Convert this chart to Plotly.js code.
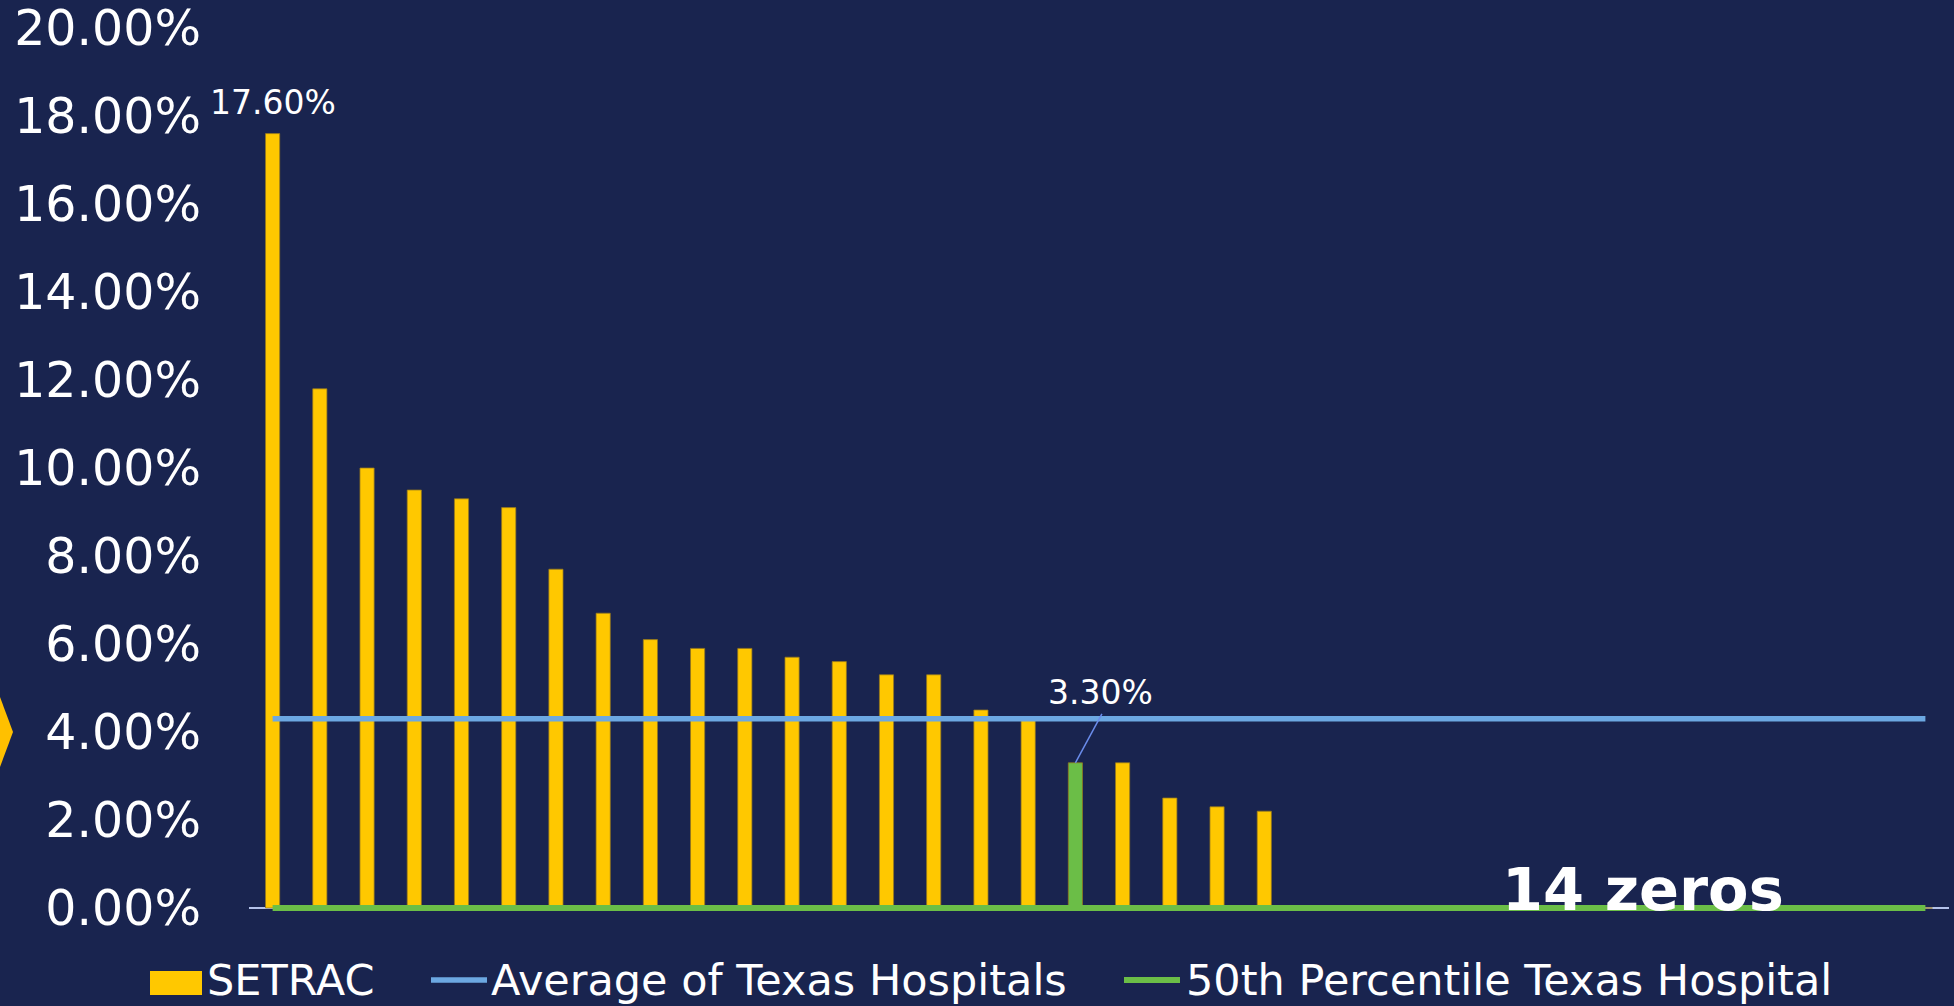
<!DOCTYPE html>
<html>
<head>
<meta charset="utf-8">
<script src="https://cdn.plot.ly/plotly-3.0.1.min.js"></script>
<style>
  html, body { margin: 0; padding: 0; background: #19244F; }
  #chart { width: 1954px; height: 1006px; }
</style>
</head>
<body>
<div id="chart"></div>
<script>
// One category per hospital, ranked from highest to lowest rate
const hospitals = [
  'H01', 'H02', 'H03', 'H04', 'H05', 'H06', 'H07', 'H08', 'H09', 'H10', 'H11', 'H12',
  'H13', 'H14', 'H15', 'H16', 'H17', 'H18', 'H19', 'H20', 'H21', 'H22', 'H23', 'H24',
  'H25', 'H26', 'H27', 'H28', 'H29', 'H30', 'H31', 'H32', 'H33', 'H34', 'H35', 'H36'
];
const setracRates = [
  0.176, 0.118, 0.100, 0.095, 0.093, 0.091, 0.077, 0.067, 0.061, 0.059, 0.059, 0.057,
  0.056, 0.053, 0.053, 0.045, 0.043, 0.033, 0.033, 0.025, 0.023, 0.022, 0, 0,
  0, 0, 0, 0, 0, 0, 0, 0, 0, 0, 0, 0
];
const averageTexasRate = 0.043;
const medianTexasRate = 0;
const highlightIndex = 17;
const seriesNames = ['SETRAC', 'Average of Texas Hospitals', '50th Percentile Texas Hospital'];
const yTickValues = [0, 0.02, 0.04, 0.06, 0.08, 0.10, 0.12, 0.14, 0.16, 0.18, 0.20];

const COLORS = {
  bg: '#19244F',
  bar: '#FFC800',
  barEdge: 'rgba(150,120,30,0.75)',
  average: '#6CA8E2',
  median: '#6BBE47',
  leader: '#6A8CEB',
  axis: '#B4C2EA',
  text: '#FFFFFF'
};
const FONT = 'DejaVu Sans, Verdana, sans-serif';

// Page geometry (pixels). The value axis gets a few pixels of slack at both
// ends so the 0% line is not clipped and the 20% tick stays on the axis.
const W = 1954, H = 1006;
const M = { l: 249, r: 5, t: 24, b: 94 };
const PW = W - M.l - M.r, PH = H - M.t - M.b;
const PX_PER_UNIT = 4400;
const slack = 4 / PX_PER_UNIT;
const fx = px => (px - M.l) / PW;
const fy = py => (H - M.b - py) / PH;

const pct = v => (v * 100).toFixed(2) + '%';
const zeroCount = setracRates.filter(v => v === 0).length;

const barColors = setracRates.map((v, i) => i === highlightIndex ? COLORS.median : COLORS.bar);

const traces = [
  {
    type: 'bar',
    name: seriesNames[0],
    x: hospitals,
    y: setracRates,
    marker: { color: barColors, line: { color: COLORS.barEdge, width: 1 } },
    hoverinfo: 'y'
  },
  {
    type: 'scatter',
    mode: 'lines',
    name: seriesNames[1],
    x: [hospitals[0], hospitals[hospitals.length - 1]],
    y: [averageTexasRate, averageTexasRate],
    line: { color: COLORS.average, width: 5.5 }
  },
  {
    type: 'scatter',
    mode: 'lines',
    name: seriesNames[2],
    x: [hospitals[0], hospitals[hospitals.length - 1]],
    y: [medianTexasRate, medianTexasRate],
    line: { color: COLORS.median, width: 6 }
  }
];

// Hand-built legend row under the plot
const legendY = fy(980);
const legendShapes = [
  { type: 'rect', xref: 'paper', yref: 'paper', x0: fx(150), x1: fx(202), y0: fy(995), y1: fy(971),
    fillcolor: COLORS.bar, line: { width: 0 } },
  { type: 'line', xref: 'paper', yref: 'paper', x0: fx(431), x1: fx(487), y0: legendY, y1: legendY,
    line: { color: COLORS.average, width: 5.5 } },
  { type: 'line', xref: 'paper', yref: 'paper', x0: fx(1124), x1: fx(1180), y0: legendY, y1: legendY,
    line: { color: COLORS.median, width: 6 } }
];
const legendLabelX = [fx(206), fx(490), fx(1185)];
const legendLabels = seriesNames.map((name, i) => ({
  xref: 'paper', yref: 'paper', x: legendLabelX[i], y: legendY,
  xanchor: 'left', yanchor: 'middle', showarrow: false, text: name, borderpad: 0,
  font: { family: FONT, size: 43, color: COLORS.text }
}));

const layout = {
  width: W,
  height: H,
  margin: M,
  paper_bgcolor: COLORS.bg,
  plot_bgcolor: COLORS.bg,
  showlegend: false,
  bargap: 0.7,
  font: { family: FONT, color: COLORS.text },
  xaxis: {
    type: 'category',
    range: [-0.5, hospitals.length - 0.5],
    showticklabels: false,
    ticks: '',
    showgrid: false,
    zeroline: false,
    showline: false,
    fixedrange: true
  },
  yaxis: {
    range: [-slack, 0.2 + slack],
    tickmode: 'array',
    tickvals: yTickValues,
    tickformat: '.2%',
    tickfont: { family: FONT, size: 49, color: COLORS.text },
    ticks: '',
    ticklabelstandoff: 47,
    showgrid: false,
    zeroline: true,
    zerolinecolor: COLORS.axis,
    zerolinewidth: 2,
    showline: false,
    fixedrange: true
  },
  shapes: [
    // leader line from the highlighted bar up to its label
    { type: 'line', xref: 'x', yref: 'y',
      xsizemode: 'pixel', xanchor: hospitals[highlightIndex], x0: 0, x1: 26.5,
      ysizemode: 'pixel', yanchor: setracRates[highlightIndex], y0: 0, y1: 49,
      line: { color: COLORS.leader, width: 1.5 } },
    // slide chevron at the left edge
    { type: 'path', xref: 'paper', yref: 'paper',
      path: `M ${fx(0)},${fy(697)} L ${fx(13)},${fy(732)} L ${fx(0)},${fy(767)} Z`,
      fillcolor: '#FFC000', line: { width: 0 } }
  ].concat(legendShapes),
  annotations: [
    { x: hospitals[0], y: setracRates[0], text: pct(setracRates[0]), showarrow: false,
      yanchor: 'middle', yshift: 31,
      font: { family: FONT, size: 33, color: COLORS.text } },
    { x: hospitals[highlightIndex], y: setracRates[highlightIndex], text: pct(setracRates[highlightIndex]),
      showarrow: false, yanchor: 'middle', xshift: 25, yshift: 70,
      font: { family: FONT, size: 33, color: COLORS.text } },
    { xref: 'paper', yref: 'paper', x: fx(1643), y: fy(889.6), text: '<b>' + zeroCount + ' zeros</b>',
      showarrow: false, xanchor: 'center', yanchor: 'middle',
      font: { family: FONT, size: 59, color: COLORS.text } }
  ].concat(legendLabels)
};

Plotly.newPlot('chart', traces, layout, { displayModeBar: false, staticPlot: true });
</script>
</body>
</html>
